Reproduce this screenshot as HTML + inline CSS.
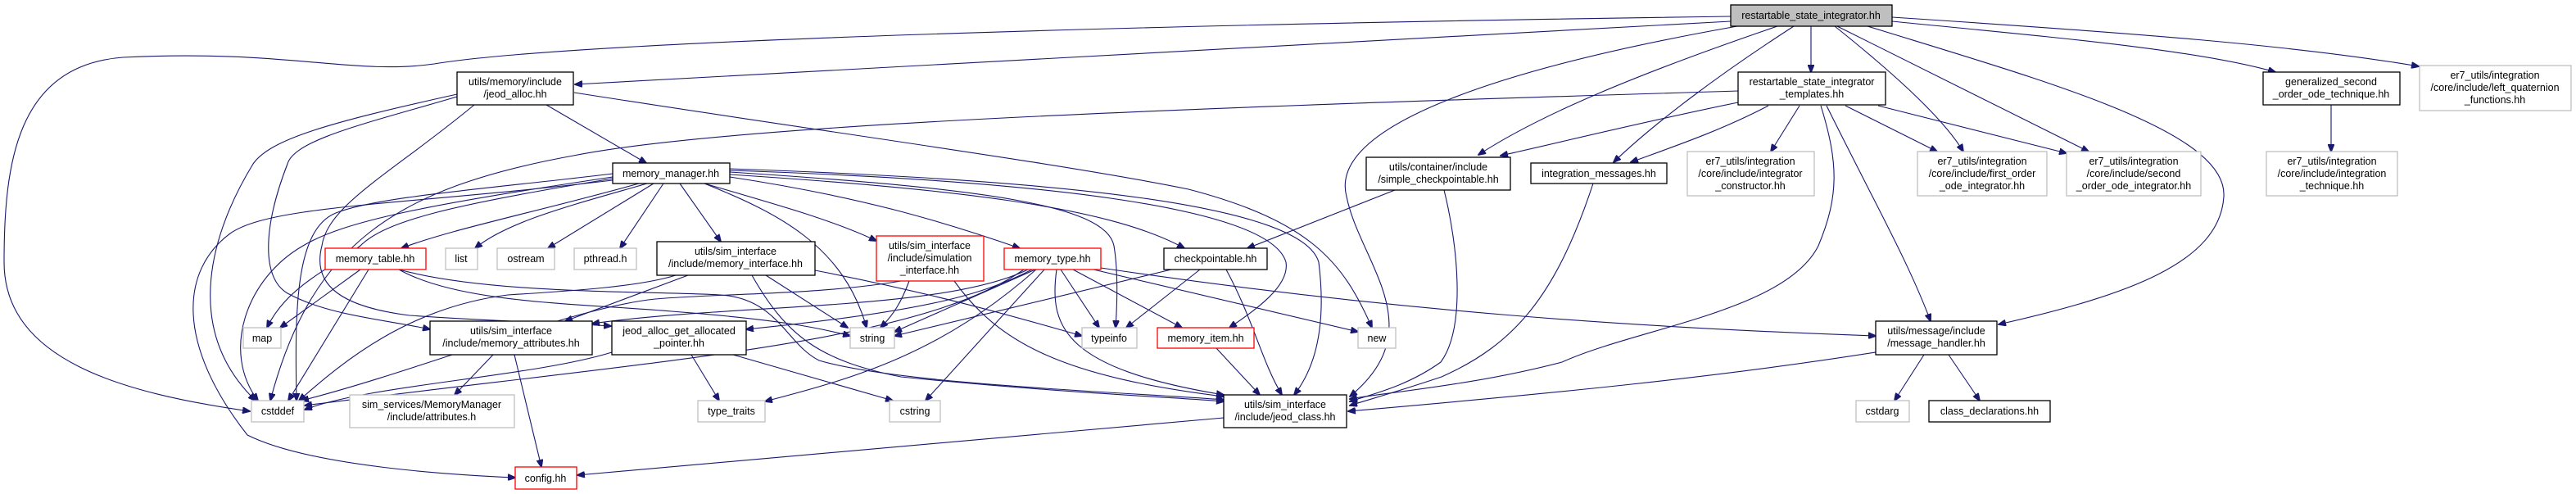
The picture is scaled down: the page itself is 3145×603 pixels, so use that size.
<!DOCTYPE html>
<html><head><meta charset="utf-8"><style>
html,body{margin:0;padding:0;background:#fff;}
svg{display:block;}
text{font-family:"Liberation Sans",Arial,sans-serif;font-size:12.5px;fill:#000;text-anchor:middle;}
.e{fill:none;stroke:#191970;stroke-width:1.1;marker-end:url(#a);}
.b{fill:#fff;stroke:#000;stroke-width:1.3;}
.g{fill:#fff;stroke:#bfbfbf;stroke-width:1.3;}
.r{fill:#fff;stroke:#ff0000;stroke-width:1.3;}
</style></head><body>
<svg width="3145" height="603" viewBox="0 0 3145 603" xmlns="http://www.w3.org/2000/svg">
<defs><marker id="a" markerWidth="10" markerHeight="8" refX="9" refY="4" orient="auto" markerUnits="userSpaceOnUse"><path d="M0,0 L10,4 L0,8 z" fill="#191970" stroke="#191970"/></marker></defs>

<!-- edges from RSI -->
<path class="e" d="M2113,20 C1400,30 700,50 530,78 C430,92 350,60 150,70 C20,80 5,200 5,320 C5,440 150,480 305,502"/>
<path class="e" d="M2113,26 L702,103"/>
<path class="e" d="M2170,32 C2000,90 1880,140 1805,189"/>
<path class="e" d="M2190,32 C2100,90 2020,150 1970,198"/>
<path class="e" d="M2121,32 C1850,80 1620,150 1644,240 C1660,320 1750,400 1648,484"/>
<path class="e" d="M2211,32 L2211,88"/>
<path class="e" d="M2240,32 C2300,80 2370,140 2397,185"/>
<path class="e" d="M2243,32 C2380,100 2480,150 2550,185"/>
<path class="e" d="M2280,32 C2500,100 2720,160 2715,240 C2710,320 2600,360 2440,396"/>
<path class="e" d="M2310,26 C2500,45 2680,60 2778,88"/>
<path class="e" d="M2310,21 C2600,40 2800,55 2953,81"/>

<!-- templates -->
<path class="e" d="M2122,111 C1500,130 900,150 700,190 C480,230 380,300 330,489"/>
<path class="e" d="M2122,125 C2000,150 1900,175 1832,190"/>
<path class="e" d="M2159,129 C2100,160 2040,180 1991,198"/>
<path class="e" d="M2197,129 L2162,185"/>
<path class="e" d="M2223,129 C2245,200 2245,240 2220,300 C2180,380 2000,400 1907,442 C1800,470 1700,478 1648,487"/>
<path class="e" d="M2253,129 L2365,185"/>
<path class="e" d="M2293,129 L2523,187"/>
<path class="e" d="M2230,129 C2290,250 2330,320 2357,392"/>
<path class="e" d="M2846,128 L2846,185"/>

<!-- simple checkpointable / integration messages -->
<path class="e" d="M1703,232 L1523,303"/>
<path class="e" d="M1763,232 C1780,300 1790,400 1759,442 C1720,470 1680,480 1648,490"/>
<path class="e" d="M1945,224 C1900,360 1850,420 1760,460 C1700,480 1670,488 1648,495"/>

<!-- jeod_alloc -->
<path class="e" d="M667,128 L789,199"/>
<path class="e" d="M558,115 C400,150 330,170 309,200 C260,280 220,400 312,489"/>
<path class="e" d="M558,118 C450,150 360,170 351,200 C320,280 320,340 351,358 C400,385 470,390 525,402"/>
<path class="e" d="M579,128 C480,210 400,250 393,300 C380,350 420,375 500,385 C600,392 700,395 746,398"/>
<path class="e" d="M701,113 C1000,160 1300,200 1451,231 C1600,270 1640,320 1675,400"/>

<!-- memory_manager -->
<path class="e" d="M780,224 C650,260 550,280 490,303"/>
<path class="e" d="M790,224 C700,250 620,270 580,303"/>
<path class="e" d="M798,224 L669,303"/>
<path class="e" d="M810,224 L757,303"/>
<path class="e" d="M830,224 L880,295"/>
<path class="e" d="M860,224 C950,250 1020,270 1070,294"/>
<path class="e" d="M891,216 C1050,240 1150,270 1245,303"/>
<path class="e" d="M891,213 C1150,230 1350,250 1446,303"/>
<path class="e" d="M891,210 C1200,230 1350,250 1360,300 C1365,330 1364,370 1362,400"/>
<path class="e" d="M891,208 C1250,220 1550,250 1570,320 C1575,350 1530,380 1501,400"/>
<path class="e" d="M891,206 C1300,220 1590,250 1610,320 C1620,400 1605,450 1580,482"/>
<path class="e" d="M860,224 C950,260 1030,300 1058,400"/>
<path class="e" d="M748,212 C600,230 460,240 410,260 C360,280 360,380 362,489"/>
<path class="e" d="M748,216 C520,250 420,270 370,300 C300,340 270,430 315,489"/>
<path class="e" d="M748,218 C550,250 470,270 440,300 C400,330 350,350 326,400"/>
<path class="e" d="M748,220 C500,250 330,250 281,285 C220,330 215,420 302,531 C380,570 560,580 629,583"/>

<!-- memory_table -->
<path class="e" d="M440,329 L342,400"/>
<path class="e" d="M450,329 L352,489"/>
<path class="e" d="M487,329 C560,370 700,370 820,380 C950,390 1000,400 1038,410"/>
<path class="e" d="M487,329 C600,360 800,355 880,360 C950,365 960,420 1000,440 C1100,470 1400,480 1494,488"/>

<!-- memory_interface -->
<path class="e" d="M825,336 C780,350 700,355 620,360 C500,375 420,440 365,489"/>
<path class="e" d="M840,336 L690,392"/>
<path class="e" d="M935,336 L1035,400"/>
<path class="e" d="M918,336 C960,410 1000,440 1100,460 C1300,480 1420,484 1494,490"/>
<path class="e" d="M995,330 C1150,360 1250,390 1321,410"/>

<!-- simulation_interface -->
<path class="e" d="M1110,343 C1100,370 1090,385 1075,400"/>
<path class="e" d="M1165,343 C1220,420 1300,460 1494,484"/>
<path class="e" d="M1100,343 C1000,360 880,358 800,365 C700,375 520,450 368,489"/>

<!-- memory_type -->
<path class="e" d="M1260,329 C1200,360 1130,380 911,402"/>
<path class="e" d="M1255,329 C1150,380 900,370 723,395"/>
<path class="e" d="M1250,329 C1120,420 800,440 372,495"/>
<path class="e" d="M1264,329 L1092,405"/>
<path class="e" d="M1295,329 L1342,400"/>
<path class="e" d="M1310,329 L1443,400"/>
<path class="e" d="M1335,329 L1658,405"/>
<path class="e" d="M1290,329 C1280,400 1300,450 1494,482"/>
<path class="e" d="M1275,329 L1130,489"/>
<path class="e" d="M1265,329 C1150,430 1050,460 934,490"/>
<path class="e" d="M1344,327 C1700,380 2000,400 2290,410"/>

<!-- checkpointable -->
<path class="e" d="M1430,329 L1092,410"/>
<path class="e" d="M1465,329 L1375,400"/>
<path class="e" d="M1497,329 C1530,390 1540,440 1565,482"/>

<!-- memory_item -->
<path class="e" d="M1485,425 L1538,482"/>

<!-- memory_attributes / jeod_alloc_get -->
<path class="e" d="M602,433 L555,482"/>
<path class="e" d="M628,433 L661,570"/>
<path class="e" d="M747,430 C650,460 450,470 372,500"/>
<path class="e" d="M844,433 L878,489"/>
<path class="e" d="M895,433 L1090,489"/>

<!-- message_handler / jeod_class -->
<path class="e" d="M2290,430 C2100,460 1900,480 1646,502"/>
<path class="e" d="M2349,433 L2313,489"/>
<path class="e" d="M2379,433 L2417,489"/>
<path class="e" d="M1494,510 L705,580"/>

<!-- nodes -->
<rect class="b" x="2113" y="6" width="197" height="26" style="fill:#bfbfbf"/><text x="2211" y="23">restartable_state_integrator.hh</text>
<rect class="b" x="558" y="88" width="142" height="40"/><text x="629" y="104">utils/memory/include</text><text x="629" y="119">/jeod_alloc.hh</text>
<rect class="b" x="2122" y="88" width="180" height="40"/><text x="2212" y="104">restartable_state_integrator</text><text x="2212" y="119">_templates.hh</text>
<rect class="b" x="2763" y="88" width="167" height="40"/><text x="2846" y="104">generalized_second</text><text x="2846" y="119">_order_ode_technique.hh</text>
<rect class="g" x="2954" y="80" width="185" height="55"/><text x="3046" y="96">er7_utils/integration</text><text x="3046" y="111">/core/include/left_quaternion</text><text x="3046" y="126">_functions.hh</text>
<rect class="b" x="1668" y="192" width="176" height="40"/><text x="1756" y="208">utils/container/include</text><text x="1756" y="223">/simple_checkpointable.hh</text>
<rect class="b" x="1869" y="199" width="166" height="25"/><text x="1952" y="216">integration_messages.hh</text>
<rect class="g" x="2060" y="185" width="155" height="54"/><text x="2137" y="201">er7_utils/integration</text><text x="2137" y="216">/core/include/integrator</text><text x="2137" y="231">_constructor.hh</text>
<rect class="g" x="2341" y="185" width="158" height="54"/><text x="2420" y="201">er7_utils/integration</text><text x="2420" y="216">/core/include/first_order</text><text x="2420" y="231">_ode_integrator.hh</text>
<rect class="g" x="2523" y="185" width="164" height="54"/><text x="2605" y="201">er7_utils/integration</text><text x="2605" y="216">/core/include/second</text><text x="2605" y="231">_order_ode_integrator.hh</text>
<rect class="g" x="2767" y="185" width="160" height="54"/><text x="2847" y="201">er7_utils/integration</text><text x="2847" y="216">/core/include/integration</text><text x="2847" y="231">_technique.hh</text>
<rect class="b" x="748" y="199" width="143" height="25"/><text x="819" y="216">memory_manager.hh</text>
<rect class="r" x="397" y="303" width="123" height="26"/><text x="458" y="320">memory_table.hh</text>
<rect class="g" x="544" y="303" width="39" height="26"/><text x="563" y="320">list</text>
<rect class="g" x="607" y="303" width="70" height="26"/><text x="642" y="320">ostream</text>
<rect class="g" x="701" y="303" width="76" height="26"/><text x="739" y="320">pthread.h</text>
<rect class="b" x="802" y="295" width="193" height="41"/><text x="898" y="311">utils/sim_interface</text><text x="898" y="326">/include/memory_interface.hh</text>
<rect class="r" x="1070" y="288" width="131" height="55"/><text x="1135" y="304">utils/sim_interface</text><text x="1135" y="319">/include/simulation</text><text x="1135" y="334">_interface.hh</text>
<rect class="r" x="1226" y="303" width="118" height="26"/><text x="1285" y="320">memory_type.hh</text>
<rect class="b" x="1421" y="303" width="126" height="26"/><text x="1484" y="320">checkpointable.hh</text>
<rect class="g" x="297" y="400" width="46" height="25"/><text x="320" y="417">map</text>
<rect class="b" x="525" y="392" width="198" height="41"/><text x="624" y="408">utils/sim_interface</text><text x="624" y="423">/include/memory_attributes.hh</text>
<rect class="b" x="747" y="392" width="164" height="41"/><text x="829" y="408">jeod_alloc_get_allocated</text><text x="829" y="423">_pointer.hh</text>
<rect class="g" x="1038" y="400" width="54" height="25"/><text x="1065" y="417">string</text>
<rect class="g" x="1321" y="400" width="67" height="25"/><text x="1354" y="417">typeinfo</text>
<rect class="r" x="1413" y="400" width="118" height="25"/><text x="1472" y="417">memory_item.hh</text>
<rect class="g" x="1658" y="400" width="46" height="25"/><text x="1681" y="417">new</text>
<rect class="b" x="2290" y="392" width="148" height="41"/><text x="2364" y="408">utils/message/include</text><text x="2364" y="423">/message_handler.hh</text>
<rect class="g" x="307" y="489" width="64" height="26"/><text x="339" y="506">cstddef</text>
<rect class="g" x="427" y="482" width="201" height="40"/><text x="527" y="498">sim_services/MemoryManager</text><text x="527" y="513">/include/attributes.h</text>
<rect class="g" x="852" y="489" width="82" height="26"/><text x="893" y="506">type_traits</text>
<rect class="g" x="1086" y="489" width="62" height="26"/><text x="1117" y="506">cstring</text>
<rect class="b" x="1494" y="482" width="150" height="40"/><text x="1569" y="498">utils/sim_interface</text><text x="1569" y="513">/include/jeod_class.hh</text>
<rect class="g" x="2266" y="489" width="65" height="26"/><text x="2298" y="506">cstdarg</text>
<rect class="b" x="2355" y="489" width="148" height="26"/><text x="2429" y="506">class_declarations.hh</text>
<rect class="r" x="629" y="570" width="75" height="27"/><text x="666" y="588">config.hh</text>
</svg>
</body></html>
